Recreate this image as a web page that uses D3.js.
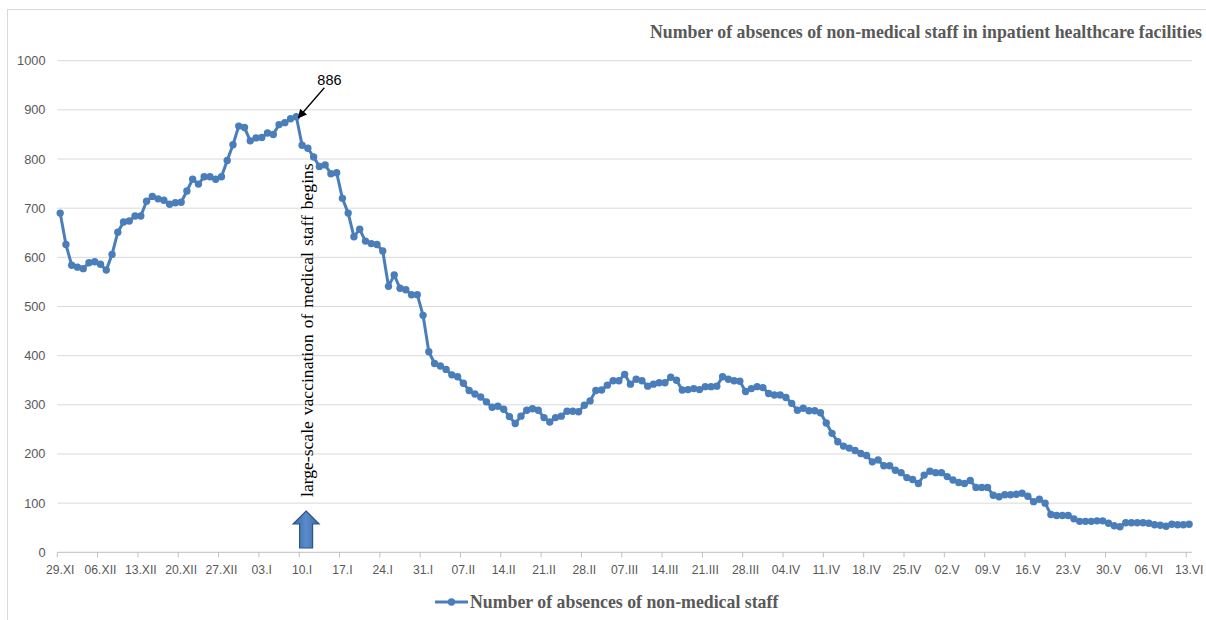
<!DOCTYPE html>
<html>
<head>
<meta charset="utf-8">
<script src="https://cdn.jsdelivr.net/npm/d3@7"></script>
<style>
  body { margin: 0; background: #fff; }
  svg { display: block; }
</style>
</head>
<body>
<div id="chart"></div>
<script>
// daily values, 29.XI (2020) .. 13.VI (2021)
const absences = [
  690, 626, 584, 580, 577, 589, 591, 586, 574, 606,
  651, 672, 674, 684, 684, 714, 724, 719, 716, 708,
  711, 712, 735, 759, 749, 764, 764, 759, 764, 797,
  829, 867, 864, 837, 843, 844, 853, 850, 870, 874,
  882, 886, 828, 822, 804, 785, 788, 770, 772, 720,
  690, 642, 657, 633, 628, 626, 613, 541, 564, 537,
  534, 524, 524, 482, 408, 384, 379, 372, 361, 357,
  344, 329, 322, 316, 306, 295, 297, 291, 276, 262,
  277, 289, 292, 289, 274, 265, 274, 277, 287, 287,
  286, 299, 308, 329, 330, 340, 349, 349, 362, 342,
  352, 349, 338, 342, 345, 345, 356, 350, 330, 331,
  333, 331, 337, 337, 338, 357, 352, 349, 348, 327,
  333, 337, 335, 323, 320, 320, 315, 303, 289, 293,
  288, 288, 284, 263, 242, 225, 216, 212, 207, 201,
  197, 184, 188, 176, 176, 167, 162, 152, 148, 140,
  157, 165, 162, 162, 154, 147, 142, 140, 146, 132,
  132, 132, 116, 113, 117, 117, 118, 120, 114, 103,
  108, 100, 77, 75, 75, 75, 68, 63, 63, 63,
  64, 64, 59, 54, 52, 60, 60, 60, 60, 59,
  56, 55, 53, 57, 56, 56, 57
];

const tickLabels = [
  "29.XI", "06.XII", "13.XII", "20.XII", "27.XII", "03.I", "10.I", "17.I", "24.I", "31.I",
  "07.II", "14.II", "21.II", "28.II", "07.III", "14.III", "21.III", "28.III", "04.IV", "11.IV",
  "18.IV", "25.IV", "02.V", "09.V", "16.V", "23.V", "30.V", "06.VI", "13.VI"
];

const yTicks = [0, 100, 200, 300, 400, 500, 600, 700, 800, 900, 1000];

const seriesName = "Number of absences of non-medical staff";
const chartTitle = "Number of absences of non-medical staff in inpatient healthcare facilities";
const peakLabel = "886";
const eventLabel = "large-scale vaccination of medical staff begins";
const eventIndex = 42; // 10.I

const width = 1206, height = 620;
const plot = { left: 57.3, right: 1192, top: 60.7, bottom: 552.3 };
const blue = "#4a7ebb", grey = "#595959";

const svg = d3.select("#chart").append("svg")
  .attr("width", width)
  .attr("height", height);

const defs = svg.append("defs");
defs.append("marker")
  .attr("id", "head")
  .attr("viewBox", "0 0 10 10")
  .attr("refX", 9).attr("refY", 5)
  .attr("markerWidth", 9).attr("markerHeight", 9)
  .attr("markerUnits", "userSpaceOnUse")
  .attr("orient", "auto")
  .append("path").attr("d", "M0,0 L10,5 L0,10 z").attr("fill", "#000");

const grad = defs.append("linearGradient").attr("id", "arrowFill")
  .attr("x1", 0).attr("x2", 1).attr("y1", 0).attr("y2", 0);
grad.append("stop").attr("offset", "0%").attr("stop-color", "#3a6aa6");
grad.append("stop").attr("offset", "50%").attr("stop-color", "#5a8ccb");
grad.append("stop").attr("offset", "100%").attr("stop-color", "#3a6aa6");

// chart area border
svg.append("rect")
  .attr("x", 7.5).attr("y", 9.5)
  .attr("width", 1220).attr("height", 640)
  .attr("fill", "none").attr("stroke", "#d9d9d9");

const x = d3.scaleBand()
  .domain(d3.range(absences.length))
  .range([plot.left, plot.right])
  .paddingInner(0).paddingOuter(0);

const y = d3.scaleLinear()
  .domain([0, 1000])
  .range([plot.bottom, plot.top]);

const cx = i => x(i) + x.bandwidth() / 2;

// gridlines + y labels
svg.append("g")
  .selectAll("line").data(yTicks.filter(d => d > 0)).join("line")
  .attr("x1", plot.left).attr("x2", plot.right)
  .attr("y1", d => y(d)).attr("y2", d => y(d))
  .attr("stroke", "#d9d9d9").attr("stroke-width", 1);

svg.append("g")
  .selectAll("text").data(yTicks).join("text")
  .attr("x", 45.5).attr("y", d => y(d)).attr("dy", "0.35em")
  .attr("text-anchor", "end")
  .attr("font-family", "Liberation Sans, Arial, sans-serif")
  .attr("font-size", 12.8).attr("fill", grey)
  .text(d => d);

// x axis: ticks between categories every 7 days, labels at category centres
const tickIdx = tickLabels.map((d, k) => k * 7);
const xAxis = svg.append("g");
xAxis.append("line")
  .attr("x1", plot.left).attr("x2", plot.right)
  .attr("y1", plot.bottom).attr("y2", plot.bottom)
  .attr("stroke", "#bfbfbf");
xAxis.selectAll(".tick").data(tickIdx).join("line")
  .attr("class", "tick")
  .attr("x1", d => x(d)).attr("x2", d => x(d))
  .attr("y1", plot.bottom).attr("y2", plot.bottom + 5)
  .attr("stroke", "#bfbfbf");
xAxis.selectAll("text").data(tickIdx).join("text")
  .attr("x", d => cx(d)).attr("y", 574)
  .attr("text-anchor", "middle")
  .attr("font-family", "Liberation Sans, Arial, sans-serif")
  .attr("font-size", 12.2).attr("fill", grey)
  .text((d, k) => tickLabels[k]);

// series
const line = d3.line().x((d, i) => cx(i)).y(d => y(d));
svg.append("path")
  .datum(absences)
  .attr("d", line)
  .attr("fill", "none").attr("stroke", blue)
  .attr("stroke-width", 3).attr("stroke-linejoin", "round");

svg.append("g")
  .selectAll("circle").data(absences).join("circle")
  .attr("cx", (d, i) => cx(i)).attr("cy", d => y(d))
  .attr("r", 3.7).attr("fill", blue);

// title
svg.append("text")
  .attr("x", 1202).attr("y", 38)
  .attr("text-anchor", "end")
  .attr("font-family", "Liberation Serif, Times New Roman, serif")
  .attr("font-weight", "bold").attr("font-size", 17.8).attr("fill", grey)
  .text(chartTitle);

// peak annotation
const peakI = absences.indexOf(d3.max(absences));
const px = cx(peakI), py = y(absences[peakI]);
svg.append("line")
  .attr("x1", px + 28).attr("y1", py - 29)
  .attr("x2", px + 2).attr("y2", py + 1)
  .attr("stroke", "#000").attr("stroke-width", 1.3)
  .attr("marker-end", "url(#head)");
svg.append("text")
  .attr("x", px + 21).attr("y", py - 32)
  .attr("font-family", "Liberation Sans, Arial, sans-serif")
  .attr("font-size", 14.5).attr("fill", "#000")
  .text(peakLabel);

// vaccination start marker
const ex = cx(eventIndex) + 4;
svg.append("text")
  .attr("transform", `translate(${ex + 7},497) rotate(-90)`)
  .attr("font-family", "Liberation Serif, Times New Roman, serif")
  .attr("font-size", 17.6).attr("word-spacing", 1.5).attr("fill", "#000")
  .text(eventLabel);

const tipY = 511, neckY = 524, baseY = 548, hw = 13, sw = 6.5;
svg.append("path")
  .attr("d", `M${ex},${tipY} L${ex + hw},${neckY} L${ex + sw},${neckY} L${ex + sw},${baseY}
              L${ex - sw},${baseY} L${ex - sw},${neckY} L${ex - hw},${neckY} Z`)
  .attr("fill", "url(#arrowFill)")
  .attr("stroke", "#2f5586").attr("stroke-width", 1.2);

// legend
const lg = svg.append("g").attr("transform", "translate(435,602)");
lg.append("line").attr("x1", 0).attr("x2", 33).attr("stroke", blue).attr("stroke-width", 3);
lg.append("circle").attr("cx", 16.5).attr("r", 3.7).attr("fill", blue);
lg.append("text")
  .attr("x", 35).attr("dy", "0.35em")
  .attr("font-family", "Liberation Serif, Times New Roman, serif")
  .attr("font-weight", "bold").attr("font-size", 17.8).attr("fill", grey)
  .text(seriesName);
</script>
</body>
</html>
